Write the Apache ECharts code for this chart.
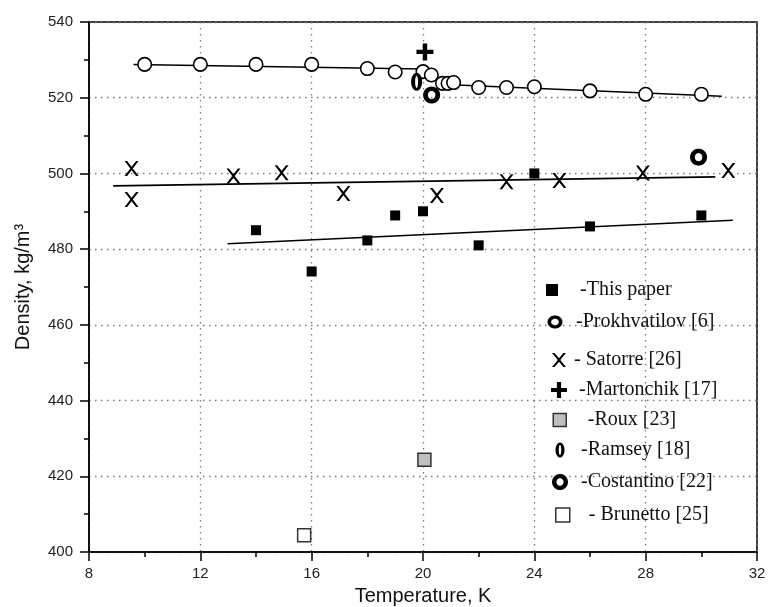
<!DOCTYPE html>
<html>
<head>
<meta charset="utf-8">
<script src="https://cdn.jsdelivr.net/npm/echarts@6/dist/echarts.min.js"></script>
<style>html,body{margin:0;padding:0;background:#fff}#c{width:769px;height:607px}</style>
</head>
<body>
<div id="c"></div>
<script>
// ---------- data ----------
const xTicks = [8, 12, 16, 20, 24, 28, 32];
const yTicks = [400, 420, 440, 460, 480, 500, 520, 540];

const thisPaperT = [14, 16, 18, 19, 20, 22, 24, 26, 30];
const thisPaperD = [485.0, 474.1, 482.3, 488.9, 490.0, 481.0, 500.0, 486.0, 488.9];

const prokhT = [10, 12, 14, 16, 18, 19, 20, 20.3, 20.7, 20.9, 21.1, 22, 23, 24, 26, 28, 30];
const prokhD = [528.8, 528.8, 528.8, 528.8, 527.7, 526.8, 526.9, 526.0, 523.8, 523.8, 524.0, 522.7, 522.7, 522.9, 521.8, 520.9, 520.9];

const satorreT = [9.53, 9.53, 13.19, 14.92, 17.14, 20.5, 23.0, 24.9, 27.9, 30.97];
const satorreD = [501.3, 493.1, 499.3, 500.2, 494.7, 494.2, 497.8, 498.1, 500.1, 500.8];

const martonchikT = [20.07];
const martonchikD = [532.1];
const rouxT = [20.05];
const rouxD = [424.4];
const ramseyT = [19.77];
const ramseyD = [524.2];
const costantinoT = [20.31, 29.9];
const costantinoD = [520.7, 504.3];
const brunettoT = [15.73];
const brunettoD = [404.4];

// fitted lines drawn on the reference
const prokhFitT = [9.6, 20, 21, 30.73];
const prokhFitD = [528.8, 527.6, 523.4, 520.4];
const satorreFitT = [8.87, 30.5];
const satorreFitD = [496.7, 499.1];
const thisPaperFitT = [12.98, 31.13];
const thisPaperFitD = [481.4, 487.6];

const seriesNames = ['-This paper', '-Prokhvatilov [6]', '- Satorre [26]', '-Martonchik [17]',
                     '-Roux [23]', '-Ramsey [18]', '-Costantino [22]', '- Brunetto [25]'];

// ---------- marker shapes (style only) ----------
const pts = (t, d) => t.map((v, i) => [v, d[i]]);
function ellipsePts(cx, cy, rx, ry, n, reverse) {
  const out = [];
  for (let k = 0; k < n; k++) {
    let a = 2 * Math.PI * k / n;
    if (reverse) a = -a;
    out.push((cx + rx * Math.sin(a)).toFixed(2) + ',' + (cy - ry * Math.cos(a)).toFixed(2));
  }
  return 'M' + out.join(' L') + ' Z';
}
function ringPath(w, h, tx, ty) {
  const n = 48;
  return 'path://' + ellipsePts(w / 2, h / 2, w / 2, h / 2, n, false) + ' ' +
    ellipsePts(w / 2, h / 2, w / 2 - tx, h / 2 - ty, n, true);
}
const SQUARE = 'path://M0,0 L100,0 L100,100 L0,100 Z';
const XPATH = 'path://M0,0 L18,0 L50,38 L82,0 L100,0 L59,50 L100,100 L82,100 L50,62 L18,100 L0,100 L41,50 Z';
const PLUS = 'path://M37,0 L63,0 L63,37 L100,37 L100,63 L63,63 L63,100 L37,100 L37,63 L0,63 L0,37 L37,37 Z';
const ZERO = ringPath(60, 100, 22, 16);
const BIGO = ringPath(100, 100, 28, 26);
const SMALLO = ringPath(115, 100, 28, 25);

const serif = '"Liberation Serif", "Times New Roman", serif';
const sans = '"Liberation Sans", Arial, sans-serif';

// legend placement: icon centre (cx, cy), text start tx, icon height h, icon aspect (w/h)
function leg(name, cx, cy, tx, h, aspect, icon, itemStyle) {
  const W = 2 * (tx - cx - 5);
  const iw = h * aspect;
  return {
    data: [{ name: name, icon: icon, itemStyle: itemStyle }],
    left: cx - iw / 2, top: cy - 10,
    itemWidth: W, itemHeight: h, padding: 0,
    selectedMode: false, symbolKeepAspect: true,
    textStyle: { fontFamily: serif, fontSize: 20, lineHeight: 20, color: '#111' }
  };
}

const chart = echarts.init(document.getElementById('c'), null, { renderer: 'canvas' });
const axisCommon = {
  axisLine: { lineStyle: { color: '#000', width: 1.5 } },
  axisTick: { show: true, inside: false, length: 9, lineStyle: { color: '#000', width: 1.5 } },
  minorTick: { show: true, splitNumber: 2, length: 5, lineStyle: { color: '#000', width: 1.5 } },
  splitLine: { show: true, lineStyle: { color: '#777', width: 1.3, type: [1.5, 4.5] } },
  nameTextStyle: { fontFamily: sans, fontSize: 20, color: '#111' },
  axisLabel: { fontFamily: sans, fontSize: 15, color: '#222' }
};
const solid = (c) => ({ color: c, opacity: 1 });

chart.setOption({
  animation: false,
  backgroundColor: '#fff',
  grid: { left: 89, right: 12, top: 22, bottom: 55, show: true, borderColor: '#000', borderWidth: 1.5,
          backgroundColor: 'transparent', outerBoundsMode: 'none', containLabel: false },
  xAxis: Object.assign({}, axisCommon, {
    type: 'value', min: xTicks[0], max: xTicks[xTicks.length - 1], interval: 4,
    name: 'Temperature, K', nameLocation: 'middle', nameGap: 34,
    axisLabel: Object.assign({}, axisCommon.axisLabel, { margin: 14 })
  }),
  yAxis: Object.assign({}, axisCommon, {
    type: 'value', min: yTicks[0], max: yTicks[yTicks.length - 1], interval: 20,
    name: 'Density, kg/m³', nameLocation: 'middle', nameGap: 56,
    axisLabel: Object.assign({}, axisCommon.axisLabel, { margin: 16 })
  }),
  legend: [
    leg(seriesNames[0], 552, 290, 580, 12, 1, SQUARE, { color: '#000', borderWidth: 0 }),
    leg(seriesNames[1], 555, 322, 576, 13, 1.15, SMALLO, { color: '#000', borderWidth: 0 }),
    leg(seriesNames[2], 559, 360, 574, 14, 1, XPATH, { color: '#000', borderWidth: 0 }),
    leg(seriesNames[3], 559, 390, 579, 16, 1, PLUS, { color: '#000', borderWidth: 0 }),
    leg(seriesNames[4], 559, 420, 587, 13, 1, SQUARE, { color: '#c0c0c0', borderColor: '#333', borderWidth: 1.5 }),
    leg(seriesNames[5], 560, 450, 581, 15, 0.6, ZERO, { color: '#000', borderWidth: 0 }),
    leg(seriesNames[6], 560, 482, 581, 16, 1, BIGO, { color: '#000', borderWidth: 0 }),
    leg(seriesNames[7], 562, 515, 588, 14, 1, SQUARE, { color: '#fff', borderColor: '#333', borderWidth: 1.5 })
  ],
  series: [
    { type: 'line', data: pts(prokhFitT, prokhFitD), symbol: 'none', z: 1, lineStyle: { color: '#000', width: 1.5 }, silent: true },
    { type: 'line', data: pts(satorreFitT, satorreFitD), symbol: 'none', z: 1, lineStyle: { color: '#000', width: 1.8 }, silent: true },
    { type: 'line', data: pts(thisPaperFitT, thisPaperFitD), symbol: 'none', z: 1, lineStyle: { color: '#000', width: 1.5 }, silent: true },
    { name: seriesNames[0], type: 'scatter', z: 3, data: pts(thisPaperT, thisPaperD), symbol: 'rect', symbolSize: 10,
      itemStyle: solid('#000') },
    { name: seriesNames[1], type: 'scatter', z: 2, data: pts(prokhT, prokhD), symbol: 'circle', symbolSize: 13.5,
      itemStyle: { color: '#fff', borderColor: '#000', borderWidth: 1.6, opacity: 1 } },
    { name: seriesNames[2], type: 'scatter', z: 3, data: pts(satorreT, satorreD), symbol: XPATH, symbolSize: [14, 15],
      itemStyle: solid('#000') },
    { name: seriesNames[3], type: 'scatter', z: 3, data: pts(martonchikT, martonchikD), symbol: PLUS, symbolSize: [17, 17],
      itemStyle: solid('#000') },
    { name: seriesNames[4], type: 'scatter', z: 3, data: pts(rouxT, rouxD), symbol: 'rect', symbolSize: 13,
      itemStyle: { color: '#c0c0c0', borderColor: '#333', borderWidth: 1.5, opacity: 1 } },
    { name: seriesNames[5], type: 'scatter', z: 4, data: pts(ramseyT, ramseyD), symbol: ZERO, symbolSize: [11, 18],
      itemStyle: solid('#000') },
    { name: seriesNames[6], type: 'scatter', z: 4, data: pts(costantinoT, costantinoD), symbol: BIGO, symbolSize: [17, 17],
      itemStyle: solid('#000') },
    { name: seriesNames[7], type: 'scatter', z: 3, data: pts(brunettoT, brunettoD), symbol: 'rect', symbolSize: 13,
      itemStyle: { color: '#fff', borderColor: '#333', borderWidth: 1.5, opacity: 1 } }
  ]
});
</script>
</body>
</html>
